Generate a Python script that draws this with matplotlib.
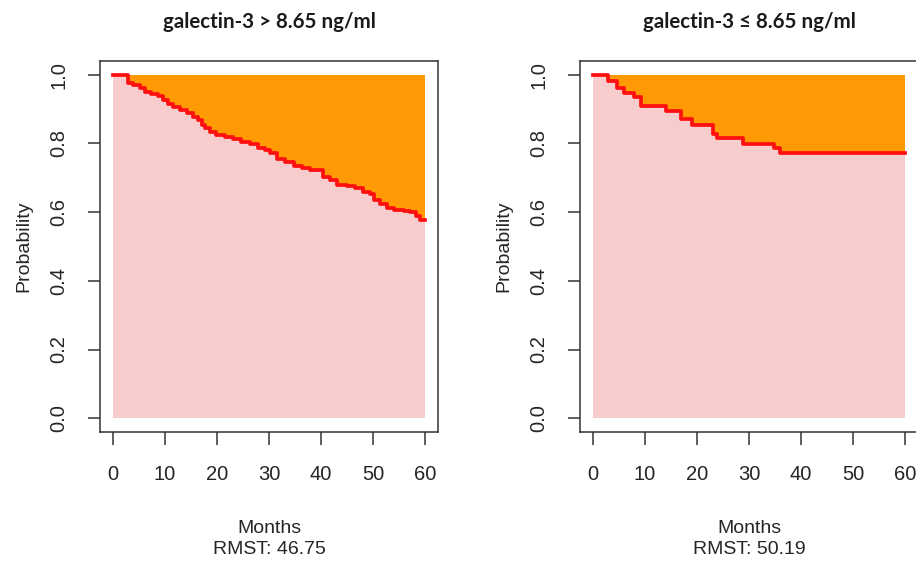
import numpy as np
import matplotlib
matplotlib.use("Agg")
import matplotlib.pyplot as plt

# Kaplan-Meier step curves (months, survival probability)
hi_t = [0, 2.9, 3.9, 5.2, 6.2, 7.4, 8.7, 9.7, 10.6, 11.6, 12.9, 14.2, 15.4, 16.4,
        17.1, 17.7, 18.7, 19.9, 21.5, 23.1, 24.7, 26.3, 27.9, 29.2, 30.2, 31.5,
        33.1, 34.7, 36.3, 37.9, 40.4, 41.7, 43.0, 44.9, 46.5, 48.1, 49.4, 50.1,
        51.3, 52.6, 53.9, 55.8, 57.1, 58.1, 59.0, 60]
hi_s = [1.0, 0.976, 0.969, 0.961, 0.951, 0.944, 0.937, 0.927, 0.914, 0.907, 0.898,
        0.888, 0.878, 0.868, 0.854, 0.844, 0.834, 0.825, 0.820, 0.813, 0.803, 0.797,
        0.786, 0.781, 0.771, 0.756, 0.747, 0.735, 0.729, 0.724, 0.703, 0.693, 0.680,
        0.675, 0.669, 0.659, 0.654, 0.635, 0.625, 0.612, 0.605, 0.602, 0.599, 0.589,
        0.576, 0.576]

lo_t = [0, 2.9, 4.7, 6.0, 7.9, 9.2, 14.0, 16.9, 19.0, 23.1, 23.9, 28.9, 34.7, 35.9, 60]
lo_s = [1.0, 0.983, 0.961, 0.948, 0.935, 0.909, 0.893, 0.870, 0.854, 0.827, 0.815,
        0.798, 0.786, 0.771, 0.771]

titles = ["galectin-3 > 8.65 ng/ml", "galectin-3 \u2264 8.65 ng/ml"]
rmst = [46.75, 50.19]
x_ticks = [0, 10, 20, 30, 40, 50, 60]
y_ticks = [0.0, 0.2, 0.4, 0.6, 0.8, 1.0]
tau = 60

plt.rcParams['font.family'] = ['Liberation Sans', 'DejaVu Sans']
fig = plt.figure(figsize=(9.16, 5.64), dpi=100)

W, H = 916, 564
boxes = [(100, 61, 338, 371), (580, 61, 338, 371)]  # left, top, width, height in px
curves = [(hi_t, hi_s), (lo_t, lo_s)]

for (l, t, w, h), (tt, ss), title, r in zip(boxes, curves, titles, rmst):
    ax = fig.add_axes([l / W, (H - t - h) / H, w / W, h / H])
    ax.fill_between([0, tau], 0, 1, color='#f6cccc', lw=0)
    ax.fill_between(tt, ss, 1, step='post', color='#ff9a05', lw=0)
    ax.step(tt, ss, where='post', color='#ff1010', lw=2.7)
    ax.set_xlim(-2.4, 62.4)
    ax.set_ylim(-0.04, 1.04)
    ax.set_xticks(x_ticks)
    ax.set_yticks(y_ticks)
    ax.set_yticklabels([f"{v:.1f}" for v in y_ticks], rotation=90, va='center')
    ax.tick_params(length=9, width=1.1, color='#333333', labelsize=14.5,
                   labelcolor='#262626')
    ax.tick_params(axis='x', pad=15)
    ax.tick_params(axis='y', pad=14)
    for sp in ax.spines.values():
        sp.set_color('#333333')
        sp.set_linewidth(1.1)
    ax.set_ylabel("Probability", fontsize=14, color='#262626', labelpad=12)
    ax.set_xlabel(f"Months\nRMST: {r:.2f}", fontsize=14, color='#262626',
                  labelpad=26, linespacing=1.25)
    fig.text((l + w / 2) / W, 1 - 22 / H, title, ha='center', va='center',
             fontsize=14.8, fontweight='bold', family=['Lato', 'DejaVu Sans'],
             color='#1a1a1a')

fig.savefig("out.png", dpi=100)
